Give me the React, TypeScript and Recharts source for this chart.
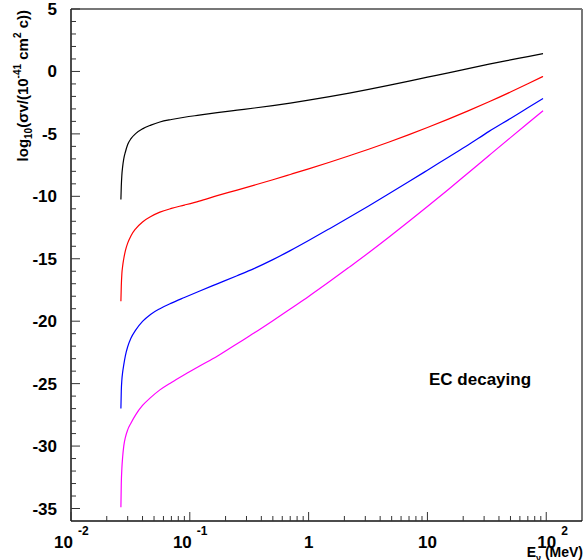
import { Line, LineChart, ReferenceLine, XAxis, YAxis } from 'recharts';

// neutrino energy (MeV) sample points
const energies = [
  0.0263, 0.0265, 0.0268, 0.0272, 0.0278, 0.0287, 0.03, 0.032, 0.035, 0.04, 0.047, 0.056, 0.07, 0.09, 0.12, 0.17,
  0.25, 0.35, 0.5, 0.7, 1, 1.5, 2.2, 3.2, 4.7, 7, 10, 15, 22, 33, 50, 70, 94,
];

// log10(sigma v) for each curve
const blackCurve = [
  -10.25, -9.2, -8.3, -7.64, -7.0, -6.45, -5.85, -5.38, -4.98, -4.6, -4.3, -4.05, -3.85, -3.67, -3.5, -3.3,
  -3.1, -2.93, -2.73, -2.53, -2.3, -2.02, -1.73, -1.43, -1.11, -0.77, -0.46, -0.11, 0.23, 0.58, 0.92, 1.19, 1.43,
];
const redCurve = [
  -18.4, -17.2, -16.2, -15.6, -15.0, -14.35, -13.75, -13.15, -12.6, -12.05, -11.62, -11.27, -10.97, -10.7, -10.38, -9.95,
  -9.5, -9.1, -8.67, -8.25, -7.8, -7.27, -6.75, -6.23, -5.67, -5.06, -4.49, -3.82, -3.16, -2.43, -1.65, -0.99, -0.4,
];
const blueCurve = [
  -27.0, -25.6, -24.7, -24.1, -23.5, -22.75, -22.05, -21.35, -20.72, -20.02, -19.44, -19.0, -18.55, -18.1, -17.6, -17.01,
  -16.36, -15.77, -15.07, -14.35, -13.54, -12.59, -11.68, -10.77, -9.82, -8.82, -7.91, -6.87, -5.89, -4.8, -3.76, -2.91, -2.17,
];
const magentaCurve = [
  -34.9, -33.0, -31.8, -30.9, -30.0, -29.3, -28.7, -28.15, -27.5, -26.75, -26.1, -25.5, -24.9, -24.28, -23.6, -22.8,
  -21.8, -20.93, -19.96, -19.02, -18.02, -16.83, -15.67, -14.52, -13.3, -12.0, -10.82, -9.45, -8.13, -6.73, -5.3, -4.15, -3.15,
];

const xMajorTicks = [0.01, 0.1, 1, 10, 100];
const xMinorTicks = [
  0.02, 0.03, 0.04, 0.05, 0.06, 0.07, 0.08, 0.09,
  0.2, 0.3, 0.4, 0.5, 0.6, 0.7, 0.8, 0.9,
  2, 3, 4, 5, 6, 7, 8, 9,
  20, 30, 40, 50, 60, 70, 80, 90,
];
const xTickLabels: Record<string, [string, string]> = {
  '0.01': ['10', '-2'],
  '0.1': ['10', '-1'],
  '1': ['1', ''],
  '10': ['10', ''],
  '100': ['10', '2'],
};

const yMajorTicks = [-35, -30, -25, -20, -15, -10, -5, 0, 5];
const yAllTicks: number[] = [];
for (let v = -35; v <= 5; v++) yAllTicks.push(v);

const data = energies.map((e, i) => ({
  e,
  black: blackCurve[i],
  red: redCurve[i],
  blue: blueCurve[i],
  magenta: magentaCurve[i],
}));

const font = '"Liberation Sans", Arial, Helvetica, sans-serif';
const tickColor = '#333';

const XTick = (props: any) => {
  const { x, y, payload } = props;
  const v = payload.value;
  const major = xMajorTicks.includes(v);
  const lbl = xTickLabels[String(v)];
  let label = null;
  if (lbl) {
    if (lbl[1] === '') {
      label = (
        <text x={x} y={y + 27} textAnchor="middle" fontSize={17} fontWeight="bold" fontFamily={font} fill="#000">
          {lbl[0]}
        </text>
      );
    } else {
      const neg = lbl[1].startsWith('-');
      const baseEnd = neg ? x + 2 : x + 10;
      label = (
        <g>
          <text x={baseEnd} y={y + 27} textAnchor="end" fontSize={17} fontWeight="bold" fontFamily={font} fill="#000">
            {lbl[0]}
          </text>
          <text x={baseEnd + 5} y={y + 14} textAnchor="start" fontSize={12} fontWeight="bold" fontFamily={font} fill="#000">
            {lbl[1]}
          </text>
        </g>
      );
    }
  }
  return (
    <g>
      <line x1={x} x2={x} y1={y} y2={y - (major ? 9 : 5)} stroke={tickColor} strokeWidth={1} />
      {label}
    </g>
  );
};

const YTick = (props: any) => {
  const { x, y, payload } = props;
  const v = payload.value;
  const major = yMajorTicks.includes(v);
  return (
    <g>
      <line x1={x} x2={x + (major ? 9 : 5)} y1={y} y2={y} stroke={tickColor} strokeWidth={1} />
      {major && (
        <text x={x - 14} y={y + 6} textAnchor="end" fontSize={17} fontWeight="bold" fontFamily={font} fill="#000">
          {v}
        </text>
      )}
    </g>
  );
};

const App = () => {
  return (
    <div style={{ position: 'absolute', left: 0, top: 0, width: 588, height: 560, background: '#fff' }}>
      <LineChart width={588} height={560} data={data} margin={{ top: 9, right: 6, bottom: 0, left: 0 }}>
        <XAxis
          dataKey="e"
          type="number"
          scale="log"
          domain={[0.01, 200]}
          allowDataOverflow
          ticks={[...xMajorTicks, ...xMinorTicks]}
          interval={0}
          height={39}
          tickSize={0}
          tickMargin={0}
          tickLine={false}
          tick={<XTick />}
          axisLine={{ stroke: '#111', strokeWidth: 1.5 }}
        />
        <YAxis
          type="number"
          domain={[-36, 5]}
          allowDataOverflow
          ticks={yAllTicks}
          interval={0}
          width={71}
          tickSize={0}
          tickMargin={0}
          tickLine={false}
          tick={<YTick />}
          axisLine={{ stroke: '#111', strokeWidth: 1.5 }}
        />
        <ReferenceLine y={5} stroke="#777" strokeWidth={2} />
        <ReferenceLine x={200} stroke="#777" strokeWidth={2} />
        <Line type="monotone" dataKey="black" stroke="#000000" strokeWidth={1.2} dot={false} isAnimationActive={false} />
        <Line type="monotone" dataKey="red" stroke="#ff0000" strokeWidth={1.2} dot={false} isAnimationActive={false} />
        <Line type="monotone" dataKey="blue" stroke="#0000ff" strokeWidth={1.2} dot={false} isAnimationActive={false} />
        <Line type="monotone" dataKey="magenta" stroke="#ff00ff" strokeWidth={1.2} dot={false} isAnimationActive={false} />
        <text x={429} y={385} fontSize={17} fontWeight="bold" fontFamily={font} fill="#000">
          EC decaying
        </text>
        <text
          x={28}
          y={10}
          transform="rotate(-90 28 10)"
          textAnchor="end"
          fontSize={15}
          fontWeight="bold"
          fontFamily={font}
          fill="#000"
        >
          <tspan>log</tspan>
          <tspan fontSize={10} dy={4}>10</tspan>
          <tspan dy={-4}>(σv/(10</tspan>
          <tspan fontSize={10} dy={-7}>-41</tspan>
          <tspan dy={7}> cm</tspan>
          <tspan fontSize={10} dy={-7}>2</tspan>
          <tspan dy={7}> c))</tspan>
        </text>
        <text x={583} y={557} textAnchor="end" fontSize={14} fontWeight="bold" fontFamily={font} fill="#000">
          <tspan>E</tspan>
          <tspan fontSize={9} dy={4}>ν</tspan>
          <tspan dy={-4}> (MeV)</tspan>
        </text>
      </LineChart>
    </div>
  );
};

export default App;
